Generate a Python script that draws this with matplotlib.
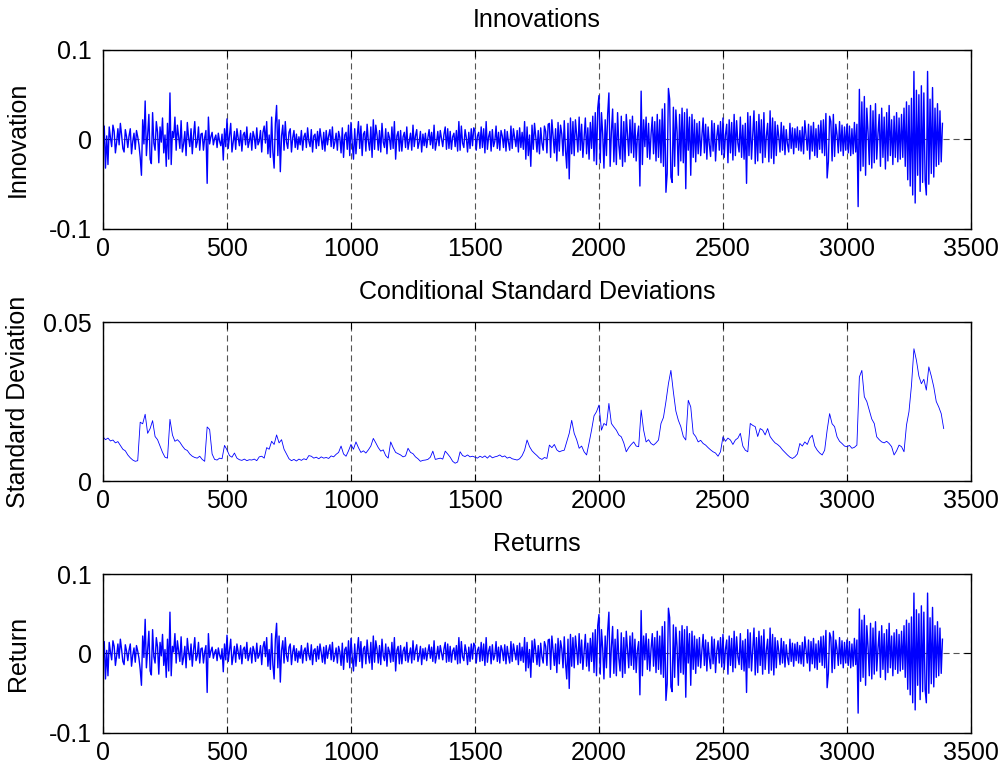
import numpy as np
import matplotlib
matplotlib.use("Agg")
import matplotlib.pyplot as plt

plt.rcParams['font.family'] = ['Liberation Sans', 'DejaVu Sans']
plt.rcParams['font.size'] = 18

# ---------------- text / ticks ----------------
titles = ["Innovations", "Conditional Standard Deviations", "Returns"]
ylabels = ["Innovation", "Standard Deviation", "Return"]
xticks = [0, 500, 1000, 1500, 2000, 2500, 3000, 3500]
xtick_labels = ["0", "500", "1000", "1500", "2000", "2500", "3000", "3500"]
ret_yticks = [-0.1, 0.0, 0.1]
ret_ytick_labels = ["-0.1", "0", "0.1"]
sd_yticks = [0.0, 0.05]
sd_ytick_labels = ["0", "0.05"]

# ---------------- data (values in units of 1e-3) ----------------
# innovations, sampled every 5 observations (index 0 .. 3385)
innovations_e3 = [
    -12, 15, -32, 4, -28, 14, 2, -8, 16, 9, -15, -3, 12, -6, 18, 5, -10, -14, 11, 3,
    -9, 4, 12, -16, -2, 7, -11, 10, 3, -6, -20, -40, 22, -5, 43, -18, 6, 28, -22, -27,
    30, -4, -12, 20, 8, -26, 14, -3, 24, -15, 5, -30, 18, -22, 52, -28, 9, 2, 25, -12,
    16, 3, -10, 21, -14, -5, 9, -18, 19, 2, -8, 12, -16, 4, 20, -9, -3, 14, -12, 6,
    7, -12, 2, 10, -49, 25, -5, 3, 8, -6, 1, 5, -9, 7, -2, -7, 6, -23, 12, -8,
    23, -10, 4, 18, -14, -3, 9, -11, 12, 2, -7, 10, -13, 5, 8, -6, 14, -9, -2, 7,
    -12, 9, 3, -10, 13, -6, -2, 10, -14, 8, 15, -4, 20, -16, 5, -20, 25, -14, -32, 18,
    38, -18, 22, -36, 4, 16, -12, 20, -3, -10, 8, 12, -14, 2, 10, -9, 6, -11, 3, -6,
    10, -12, 3, 7, -9, 13, -2, -8, 11, -14, 4, 6, -10, 9, -7, 12, 1, -11, 8, -13,
    10, -6, 4, 11, -8, 14, -10, -3, 7, -12, 9, 2, -15, 13, -20, 5, 8, -11, 16, -18,
    19, -4, -22, 12, -16, 3, 20, -10, 15, -18, 6, 9, -13, 17, -2, -12, 14, -20, 22, -11,
    16, 5, -12, 10, -14, 18, -3, -9, 12, -16, 8, 2, -11, 14, -10, 20, -22, 4, 9, -13,
    10, -13, 3, 8, -9, 14, -11, -2, 7, -12, 16, -8, 4, 11, -10, -3, 9, -14, 6, -7,
    7, -9, 2, 11, -6, 8, -10, 16, -12, -3, 9, -7, 10, 1, -8, 6, 14, -11, 12, -10,
    9, -11, 3, 7, -8, 10, -13, 20, -12, 15, -4, -9, 11, 2, -14, 8, -10, 12, -7, 13,
    10, -12, 4, 8, -10, 14, -9, 12, -15, 20, -11, 3, 9, -13, 11, -8, -2, 15, -10, 8,
    -12, 10, 4, -9, 11, -13, 9, -3, -12, 15, -10, 12, 2, -8, 10, -14, 13, -9, 8, -11,
    20, -22, 14, -18, 5, -30, 16, -11, 18, 3, -14, 10, -16, 13, -4, -12, 15, 9, -15, 17,
    18, -20, 22, 4, -15, 12, -24, 19, -13, 16, 6, -18, 21, -12, -32, 18, -44, 24, -16, 20,
    -18, 22, 5, -14, 25, -12, 17, -20, 3, 24, -16, 13, -22, 19, -10, 26, -24, 30, -28, 35,
    49, -26, 30, 6, -32, 22, -18, 28, 52, -30, 8, 34, -25, 18, -28, 30, -6, -22, 26, -30,
    20, -25, 28, 5, -18, 22, -15, 26, -20, 18, -24, 4, 15, -52, 54, -28, 22, -8, 25, -20,
    18, -22, 6, 25, -16, 20, -24, 28, -20, 22, -26, 34, -30, 40, -59, -38, 57, 45, -42, -48,
    36, -30, 33, 8, -40, 28, -24, 35, -26, 30, -55, 34, -12, 25, -40, 28, -20, 22, -25, 18,
    -16, 20, -18, 4, 24, -15, 17, -22, 14, -6, -19, 21, -13, 18, -24, 3, 16, -12, 20, -17,
    24, -20, 5, 17, -26, 22, -15, 19, -23, 28, -18, 21, -4, -14, 25, -20, 16, -22, 18, -49,
    30, -18, 26, -22, 6, 32, -27, 20, -24, 28, -15, 22, -26, 30, -20, 4, 18, -25, 32, -21,
    24, -27, 20, -18, 16, 3, -14, 19, -12, 15, -17, 11, -5, -14, 18, -10, 13, -16, 12, -9,
    14, -12, 10, -13, 14, -16, 21, 4, -12, 17, -22, 15, -13, 19, -18, 12, -20, 16, -11, 21,
    -15, 22, -18, 29, -43, -25, 26, 20, -24, 28, -19, 17, 5, -15, 20, -13, 16, -18, 14, -12,
    17, -15, 15, -18, 12, -16, 19, -14, 17, -75, 56, -35, 42, -30, 48, -40, 35, 8, -28, 38,
    -32, 32, -26, 40, -22, 6, 28, -30, 35, -20, 25, -33, 30, -24, 38, -18, 22, -28, 26, -20,
    30, -25, 24, -22, 28, -20, 35, -30, 42, -45, 38, -52, 46, -62, 76, -71, 55, -40, 50, -58,
    60, -48, 52, -45, -62, 76, -50, 45, -38, 58, -42, 35, -30, 40, -28, 32, -25, 18,
]
# returns (visually identical to the innovations)
returns_e3 = list(innovations_e3)

# conditional standard deviation, sampled every 10 observations (index 0 .. 3390)
sigma_e3 = [
    13.9, 13.0, 13.5, 12.6, 12.9, 12.0, 12.4, 11.2, 10.0, 9.5,
    8.2, 7.3, 6.6, 6.2, 6.4, 18.5, 18.0, 21.0, 15.0, 16.5,
    19.0, 14.0, 13.0, 11.0, 9.0, 7.5, 7.2, 19.4, 14.5, 12.5,
    13.0, 12.2, 11.0, 10.0, 9.6, 8.5, 7.8, 7.4, 7.2, 7.8,
    6.8, 6.2, 17.0, 16.2, 8.5, 6.8, 6.6, 7.2, 7.0, 11.2,
    9.8, 8.0, 7.5, 8.8, 7.2, 6.7, 6.5, 6.9, 6.4, 6.7,
    6.6, 6.9, 6.4, 7.6, 7.8, 7.2, 10.5, 10.0, 12.5, 11.5,
    14.5, 12.0, 13.0, 10.0, 8.5, 7.0, 6.4, 6.8, 6.3, 6.9,
    6.5, 7.0, 6.7, 8.0, 7.8, 7.2, 7.5, 7.0, 7.6, 7.2,
    7.4, 7.1, 7.9, 7.6, 8.4, 9.0, 11.0, 8.5, 7.8, 9.5,
    11.5, 10.0, 12.3, 10.5, 9.0, 9.5, 8.8, 9.8, 11.0, 13.4,
    12.0, 10.5, 9.4, 9.8, 8.0, 7.2, 12.3, 10.5, 9.0, 8.6,
    8.2, 7.6, 7.9, 10.3, 9.0, 8.6, 7.6, 7.0, 6.2, 6.5,
    6.6, 6.8, 7.5, 9.4, 6.8, 7.0, 7.2, 6.9, 9.4, 8.5,
    7.5, 6.2, 5.6, 6.0, 9.2, 8.0, 7.7, 8.2, 7.6, 7.8,
    7.5, 7.2, 7.8, 7.4, 7.9, 7.2, 8.0, 7.3, 7.6, 7.8,
    8.2, 7.6, 7.9, 7.2, 7.5, 7.0, 6.8, 6.6, 7.0, 8.0,
    9.7, 12.9, 10.8, 9.5, 8.7, 8.0, 7.2, 6.8, 7.4, 7.1,
    11.3, 10.5, 11.5, 9.8, 9.2, 9.5, 9.7, 12.3, 15.0, 19.1,
    15.0, 13.0, 10.3, 11.0, 9.2, 8.2, 12.0, 16.0, 20.5, 21.8,
    23.9, 16.0, 18.1, 17.5, 24.4, 18.1, 17.0, 16.0, 14.5, 13.9,
    12.0, 9.2, 10.5, 11.5, 12.3, 11.0, 10.8, 22.3, 16.0, 12.3,
    13.0, 11.8, 11.3, 12.0, 12.9, 18.1, 20.0, 25.0, 30.6, 34.8,
    28.0, 22.0, 19.1, 17.1, 14.0, 12.9, 25.4, 23.3, 15.0, 14.0,
    12.3, 12.8, 11.8, 11.3, 10.5, 9.8, 9.2, 8.8, 7.8, 9.2,
    13.9, 12.5, 13.5, 12.9, 11.5, 12.9, 13.5, 15.0, 11.0, 9.7,
    9.2, 18.1, 17.5, 17.1, 14.0, 16.5, 16.0, 14.5, 16.5, 14.0,
    12.9, 12.0, 11.5, 10.8, 9.8, 9.0, 8.2, 7.5, 7.1, 7.6,
    8.5, 11.8, 11.0, 12.3, 11.5, 13.5, 14.4, 11.0, 9.7, 8.8,
    8.2, 9.7, 16.0, 21.2, 18.0, 17.1, 13.9, 12.5, 11.8, 11.0,
    10.8, 11.2, 10.3, 10.6, 11.3, 32.7, 34.8, 26.5, 25.0, 22.3,
    19.5, 18.1, 13.9, 13.0, 12.3, 12.0, 12.5, 11.8, 10.8, 8.2,
    9.5, 11.3, 10.8, 9.2, 17.6, 21.8, 30.0, 41.6, 38.0, 33.0,
    30.6, 32.0, 28.6, 35.9, 33.0, 29.6, 25.0, 23.3, 21.2, 16.5,
]

innovations = np.asarray(innovations_e3, dtype=float) * 1e-3
returns = np.asarray(returns_e3, dtype=float) * 1e-3
sigma = np.asarray(sigma_e3, dtype=float) * 1e-3
innov_index = np.arange(len(innovations)) * 5
returns_index = np.arange(len(returns)) * 5
sigma_index = np.arange(len(sigma)) * 10

# ---------------- figure ----------------
fig = plt.figure(figsize=(10.01, 7.71), dpi=100)
left, width = 0.1029, 0.8671
ax1 = fig.add_axes([left, 0.7030, width, 0.2322])
ax2 = fig.add_axes([left, 0.3761, width, 0.2062])
ax3 = fig.add_axes([left, 0.0493, width, 0.2062])

blue = (0.0, 0.0, 1.0)
ax1.plot(innov_index, innovations, color=blue, lw=1.0)
ax2.plot(sigma_index, sigma, color=blue, lw=0.6)
ax3.plot(returns_index, returns, color=blue, lw=1.0)

specs = [
    (ax1, (-0.1, 0.1), ret_yticks, ret_ytick_labels),
    (ax2, (0.0, 0.05), sd_yticks, sd_ytick_labels),
    (ax3, (-0.1, 0.1), ret_yticks, ret_ytick_labels),
]
for (ax, ylim, yt, ytl), title, ylab in zip(specs, titles, ylabels):
    ax.set_xlim(0, 3500)
    ax.set_xticks(xticks)
    ax.set_xticklabels(xtick_labels)
    ax.set_ylim(*ylim)
    ax.set_yticks(yt)
    ax.set_yticklabels(ytl)
    ax.grid(True, linestyle=(0, (5.5, 3.5)), color='#555555', linewidth=0.8)
    ax.tick_params(direction='in', length=5, width=0.8, top=True, right=True,
                   labelsize=18, colors='black')
    ax.tick_params(axis='x', pad=6)
    ax.tick_params(axis='y', pad=8)
    for sp in ax.spines.values():
        sp.set_linewidth(1.0)
        sp.set_color('black')
    ax.set_title(title, fontsize=18, pad=16.5)
    ax.set_ylabel(ylab, fontsize=18)
    ax.yaxis.set_label_coords(-0.084, 0.5)

fig.savefig("out.png", dpi=100, facecolor='white')
